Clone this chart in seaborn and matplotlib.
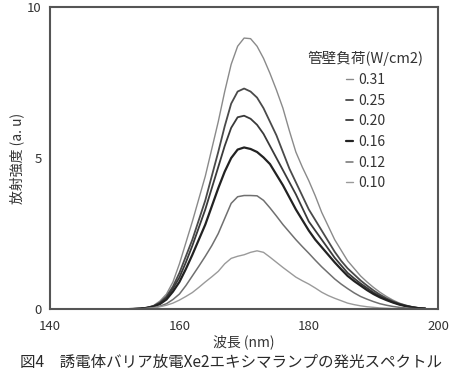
import seaborn as sns
import matplotlib.pyplot as plt
import pandas as pd

# wavelength grid (nm), 1 nm steps, and read-off intensities (a.u.) per wall load
wavelength = list(range(152, 199))
load_031 = [0, 0.01, 0.02, 0.05, 0.12, 0.27, 0.5, 0.9, 1.5, 2.2, 2.9, 3.65, 4.4,
            5.3, 6.2, 7.2, 8.1, 8.7, 8.97, 8.95, 8.7, 8.3, 7.8, 7.25, 6.65, 5.9,
            5.2, 4.7, 4.25, 3.75, 3.2, 2.75, 2.3, 1.95, 1.6, 1.35, 1.1, 0.9, 0.72,
            0.56, 0.42, 0.3, 0.2, 0.13, 0.08, 0.04, 0.02]
load_025 = [0, 0.01, 0.02, 0.05, 0.1, 0.22, 0.42, 0.75, 1.2, 1.75, 2.3, 2.95, 3.6,
            4.4, 5.2, 6.05, 6.8, 7.2, 7.3, 7.2, 7.0, 6.65, 6.2, 5.75, 5.2, 4.65,
            4.2, 3.75, 3.3, 2.95, 2.6, 2.25, 1.9, 1.6, 1.35, 1.15, 0.95, 0.78, 0.62,
            0.48, 0.36, 0.26, 0.18, 0.12, 0.07, 0.04, 0.02]
load_020 = [0, 0.01, 0.02, 0.05, 0.1, 0.2, 0.38, 0.68, 1.05, 1.55, 2.1, 2.7, 3.3,
            4.0, 4.7, 5.4, 6.0, 6.35, 6.4, 6.3, 6.1, 5.8, 5.4, 5.0, 4.6, 4.2,
            3.8, 3.35, 2.9, 2.6, 2.3, 2.0, 1.7, 1.45, 1.2, 1.02, 0.85, 0.7, 0.55,
            0.43, 0.32, 0.23, 0.16, 0.1, 0.06, 0.03, 0.02]
load_016 = [0, 0.01, 0.02, 0.04, 0.08, 0.17, 0.32, 0.58, 0.9, 1.33, 1.8, 2.3, 2.8,
            3.4, 4.0, 4.55, 5.0, 5.28, 5.35, 5.3, 5.2, 5.02, 4.8, 4.45, 4.1, 3.7,
            3.3, 2.95, 2.6, 2.3, 2.05, 1.8, 1.55, 1.32, 1.1, 0.93, 0.78, 0.63, 0.5,
            0.39, 0.3, 0.22, 0.15, 0.1, 0.06, 0.03, 0.02]
load_012 = [0, 0, 0.01, 0.03, 0.05, 0.1, 0.18, 0.32, 0.5, 0.78, 1.1, 1.42, 1.75,
            2.1, 2.5, 3.0, 3.5, 3.72, 3.76, 3.76, 3.75, 3.6, 3.35, 3.08, 2.8, 2.55,
            2.3, 2.07, 1.85, 1.62, 1.4, 1.2, 1.0, 0.83, 0.68, 0.54, 0.42, 0.33, 0.25,
            0.18, 0.13, 0.09, 0.06, 0.04, 0.02, 0.01, 0]
load_010 = [0, 0, 0, 0.02, 0.04, 0.08, 0.13, 0.2, 0.3, 0.42, 0.55, 0.72, 0.9,
            1.07, 1.25, 1.5, 1.68, 1.75, 1.8, 1.88, 1.93, 1.88, 1.72, 1.55, 1.38, 1.22,
            1.06, 0.94, 0.83, 0.7, 0.56, 0.45, 0.36, 0.28, 0.2, 0.15, 0.11, 0.08, 0.06,
            0.04, 0.03, 0.02, 0.01, 0, 0, 0, 0]

labels = ['0.31', '0.25', '0.20', '0.16', '0.12', '0.10']
series = [load_031, load_025, load_020, load_016, load_012, load_010]
colors = ['#8a8a8a', '#4a4a4a', '#3a3a3a', '#222222', '#707070', '#9a9a9a']
widths = [1.0, 1.3, 1.3, 1.6, 1.1, 1.0]

sns.set_style('white')
plt.rcParams['font.family'] = ['Noto Sans CJK JP', 'DejaVu Sans']

fig = plt.figure(figsize=(4.55, 3.85), dpi=100)
ax = fig.add_axes([0.110, 0.197, 0.853, 0.785])

for lab, vals, c, w in zip(labels, series, colors, widths):
    df = pd.DataFrame({'wl': wavelength, 'I': vals})
    sns.lineplot(data=df, x='wl', y='I', color=c, lw=w, label=lab, ax=ax)

ax.set_xlim(140, 200)
ax.set_ylim(0, 10)
ax.set_xticks([140, 160, 180, 200])
ax.set_yticks([0, 5, 10])
ax.tick_params(axis='x', direction='in', length=4, width=1, pad=8,
               labelsize=9.5, colors='#333333')
ax.tick_params(axis='y', direction='out', length=4, width=1, pad=2,
               labelsize=9.5, colors='#333333')
for s in ax.spines.values():
    s.set_visible(True)
    s.set_color('#555555')
    s.set_linewidth(1.5)

ax.set_xlabel('波長 (nm)', fontsize=10, color='#333333', labelpad=1)
ax.set_ylabel('放射強度 (a. u)', fontsize=10, color='#333333', labelpad=2)

leg = ax.legend(title='管壁負荷(W/cm2)', loc='upper right',
                bbox_to_anchor=(0.995, 0.895), frameon=False, fontsize=10,
                title_fontsize=10.5, handlelength=0.45, handletextpad=0.4,
                labelspacing=0.48)
for t in leg.get_texts():
    t.set_color('#333333')
leg.get_title().set_color('#333333')

fig.text(0.045, 0.06, '図4　誘電体バリア放電Xe2エキシマランプの発光スペクトル',
         fontsize=11.2, color='#2a2a2a', ha='left', va='center')

fig.savefig('out.png', dpi=100)
